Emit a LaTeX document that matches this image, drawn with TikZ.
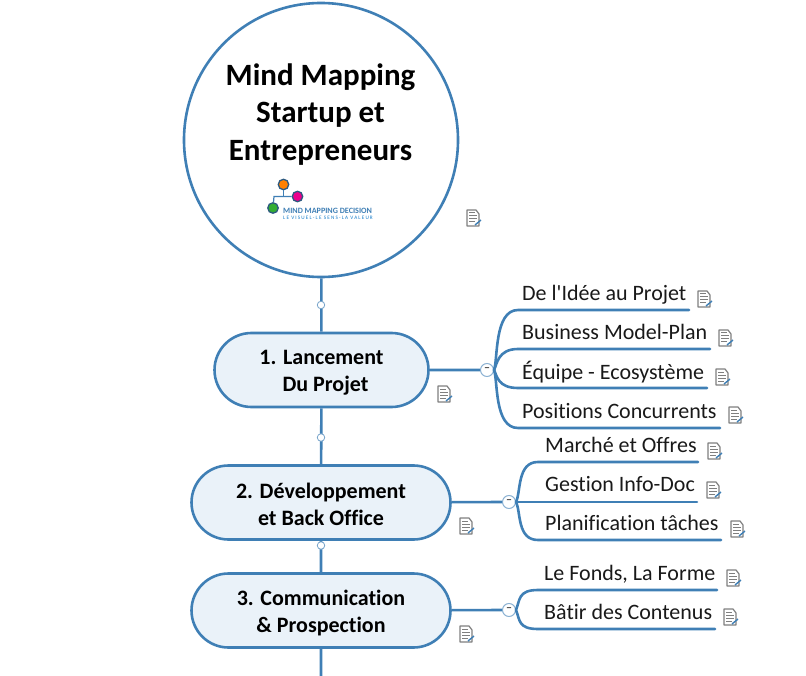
\documentclass[tikz,border=0pt]{standalone}
\usepackage{fontspec}
\setmainfont{Carlito}[Ligatures={TeXOff,NoCommon}]
\usetikzlibrary{shapes.misc}
\definecolor{mainblue}{HTML}{3F7FB5}
\definecolor{boxfill}{HTML}{EAF2F9}
\definecolor{docgrey}{HTML}{7F7F7F}
\newcommand{\lowerbox}{\rule{0pt}{20pt}}
\tikzset{
  x=1pt,y=-1pt,
  rootnode/.style={circle,draw=mainblue,line width=2.6pt,fill=white,minimum size=274pt,inner sep=0pt},
  roottext/.style={font=\fontsize{31}{37.5}\selectfont\bfseries,align=center,text=black},
  mainbox/.style={rounded rectangle,draw=mainblue,line width=2.6pt,fill=boxfill,minimum height=74pt,inner sep=0pt,
     font=\fontsize{22}{27}\selectfont\bfseries,align=center,text=black},
  trunk/.style={draw=mainblue,line width=2.6pt},
  branch/.style={draw=mainblue,line width=2.6pt,line cap=round},
  toggle/.style={circle,draw=mainblue!60,line width=1pt,fill=white,minimum size=13pt,inner sep=0pt,font=\fontsize{12}{12}\selectfont\bfseries,text=black!70},
  dot/.style={circle,draw=mainblue!70,line width=.8pt,fill=white,minimum size=7.5pt,inner sep=0pt},
  leaf/.style={anchor=base west,font=\fontsize{22}{24}\selectfont,text=black!90,inner sep=0pt},
  logodot/.style={circle,draw=mainblue!70!black,line width=1.3pt,fill=#1,minimum size=10.5pt,inner sep=0pt},
  notepic/.pic={
    \fill[white] (-6,-8) -- (3,-8) -- (6,-4) -- (6,8) -- (-6,8) -- cycle;
    \draw[docgrey,line width=1.2pt,line join=round] (-6,-8) -- (3,-8) -- (6,-4) -- (6,8) -- (-6,8) -- cycle;
    \draw[docgrey,line width=1pt] (-4,-5) -- (2,-5) (-4,-2) -- (4,-2) (-4,1) -- (4,1) (-4,4) -- (2,4);
    \draw[mainblue,line width=1.4pt] (2,7) -- (8,2);
  }
}
\begin{document}
\begin{tikzpicture}
\useasboundingbox (0,0) rectangle (806,676);
\coordinate (bottom) at (321,676);
\node[rootnode] (root) at (321,140) {};
\node[roottext] (title) at (320.5,114.5) {Mind Mapping\\Startup et\\Entrepreneurs};
\node[mainbox,minimum width=214pt] (b1) at (321.5,370) {\lowerbox 1. Lancement\\\hspace*{8pt}Du Projet};
\node[mainbox,minimum width=259pt] (b2) at (321,502.5) {\lowerbox 2. Développement\\et Back Office};
\node[mainbox,minimum width=259pt] (b3) at (321,610.5) {\lowerbox 3. Communication\\\&\ Prospection};
\draw[trunk] (root) -- (b1);
\draw[trunk] (b1) -- (b2);
\draw[trunk] (b2) -- (b3);
\draw[trunk] (b3) -- (bottom);
\node[dot] (d1) at (321,305) {};
\node[dot] (d2) at (321,437.5) {};
\node[dot] (d3) at (321,545.5) {};
% collapse toggles
\node[toggle] (t1) at (487,370) {\raisebox{-1pt}{–}};
\node[toggle] (t2) at (509,502) {\raisebox{-1pt}{–}};
\node[toggle] (t3) at (509,610) {\raisebox{-1pt}{–}};
\draw[trunk] (b1) -- (t1);
\draw[trunk] (b2) -- (t2);
\draw[trunk] (b3) -- (t3);
\coordinate (l11) at (689,310);\coordinate (l12) at (710,349);\coordinate (l13) at (707,388);\coordinate (l14) at (720,428);
\coordinate (l21) at (698,462);\coordinate (l22) at (697,502);\coordinate (l23) at (721,540);
\coordinate (l31) at (717,590);\coordinate (l32) at (715,629);
\draw[branch] (t1.east) .. controls (498,360) and (494,310) .. (518,310) -- (l11);
\draw[branch] (t1.east) .. controls (497,364) and (498,349) .. (518,349) -- (l12);
\draw[branch] (t1.east) .. controls (497,376) and (498,388) .. (518,388) -- (l13);
\draw[branch] (t1.east) .. controls (498,380) and (494,428) .. (518,428) -- (l14);
\draw[branch] (t2.east) .. controls (521,492) and (517,462) .. (538,462) -- (l21);
\draw[branch] (t2.east) -- (l22);
\draw[branch] (t2.east) .. controls (521,512) and (517,540) .. (538,540) -- (l23);
\draw[branch] (t3.east) .. controls (520,600) and (518,590) .. (538,590) -- (l31);
\draw[branch] (t3.east) .. controls (520,620) and (518,629) .. (538,629) -- (l32);
\node[leaf] (n11) at (522,301) {De l'Idée au Projet};
\node[leaf] (n12) at (522,340) {Business Model-Plan};
\node[leaf] (n13) at (522,379.5) {Équipe - Ecosystème};
\node[leaf] (n14) at (522,418.5) {Positions Concurrents};
\node[leaf] (n21) at (545,452.5) {Marché et Offres};
\node[leaf] (n22) at (545,491.5) {Gestion Info-Doc};
\node[leaf] (n23) at (545,530.5) {Planification tâches};
\node[leaf] (n31) at (544,580.5) {Le Fonds, La Forme};
\node[leaf] (n32) at (544,619.5) {Bâtir des Contenus};
% note icons
\foreach \p in {(473,218),(704,299),(725,338),(722,377),(735,415),(444,394),(714,451),(713,490),(737,529),(733,578),(730,617),(466,526),(466,634)}
  \pic at \p {notepic};
% logo
\node[logodot=orange] (lo) at (283.5,184.5) {};
\node[logodot=magenta] (lm) at (297.5,196.5) {};
\node[logodot=green!60!black!80] (lg) at (273,208) {};
\draw[mainblue,line width=1.2pt] (lo) -- (283.5,196.5);
\draw[mainblue,line width=1.2pt] (lm) -- (274,196.5) -- (lg);
\node[anchor=base west,inner sep=0pt,text=mainblue,font=\fontsize{8.1}{8}\selectfont\bfseries] (lt1) at (283,214) {MIND MAPPING DECISION};
\node[anchor=base west,inner sep=0pt,text=cyan!60!blue,font=\fontsize{5.2}{5}\selectfont\addfontfeature{LetterSpace=22}] (lt2) at (283,219.5) {LE VISUEL-LE SENS-LA VALEUR};
\end{tikzpicture}
\end{document}
